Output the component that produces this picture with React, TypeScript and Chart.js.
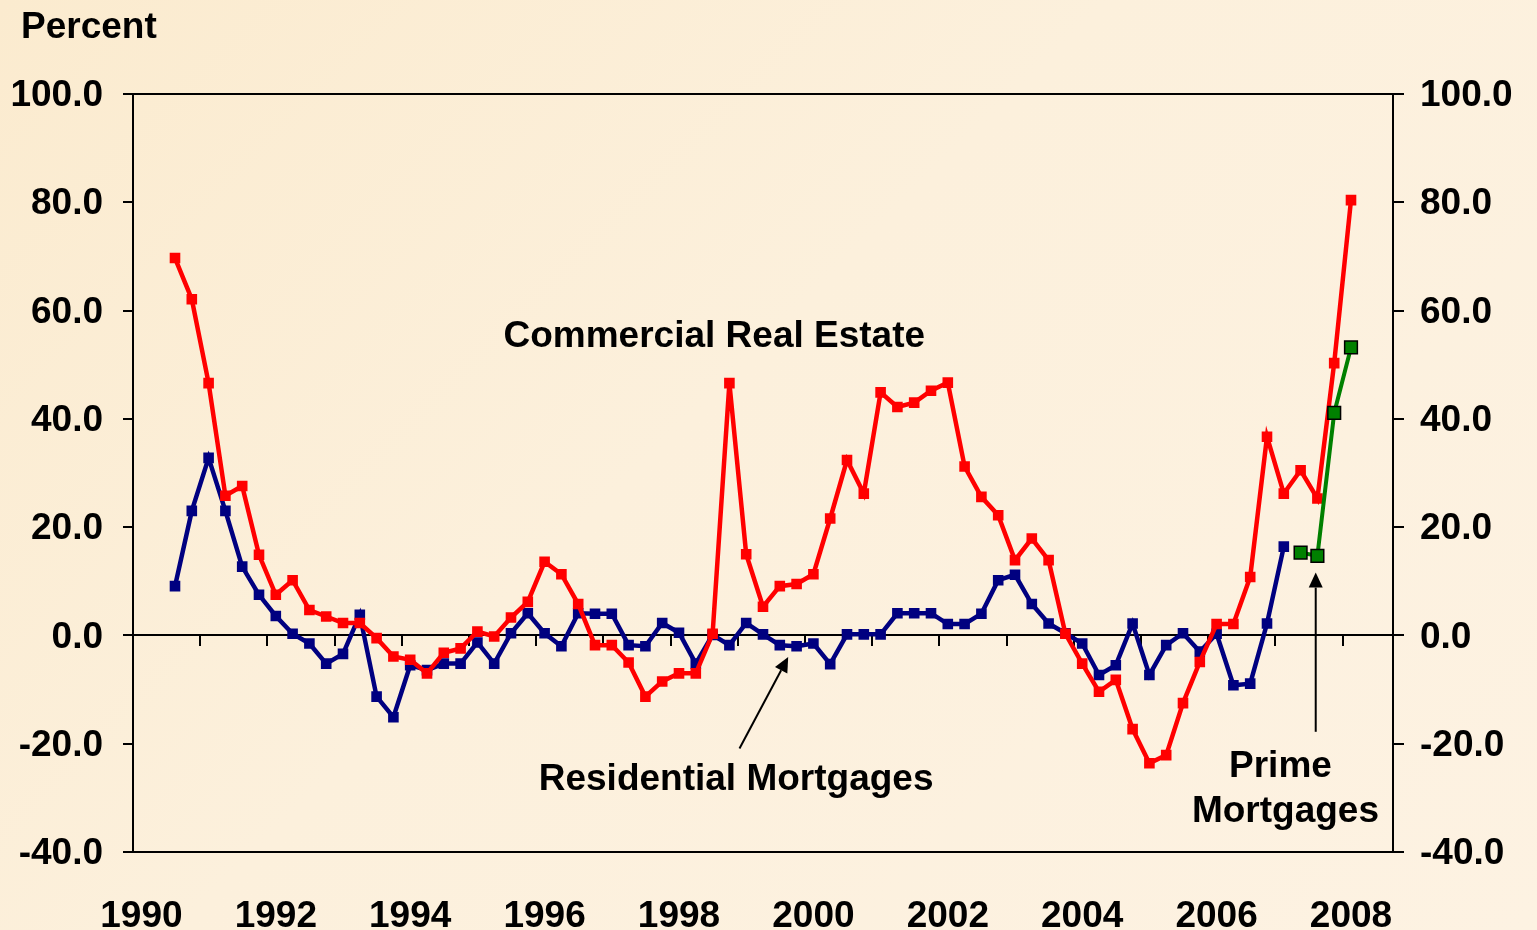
import React, { useEffect, useRef } from 'react';
import { Chart, registerables } from 'chart.js';

Chart.register(...registerables);

const FONT = '"Liberation Sans", Arial, Helvetica, sans-serif';

// Quarterly categories 1990 Q1 .. 2008 Q3
const startYear = 1990;
const quarterCount = 75;
const categories: string[] = [];
for (let i = 0; i < quarterCount; i++) {
  categories.push(`${startYear + Math.floor(i / 4)} Q${(i % 4) + 1}`);
}

// Tick labels shown every 8 quarters
const yearTickLabels = ['1990', '1992', '1994', '1996', '1998', '2000', '2002', '2004', '2006', '2008'];

// Commercial Real Estate (percent)
const commercialRealEstate: (number | null)[] = [
  null, null, 69.7, 62.1, 46.6, 25.8, 27.6, 14.9,
  7.5, 10.2, 4.7, 3.5, 2.3, 2.3, -0.5, -3.9,
  -4.5, -7.0, -3.2, -2.4, 0.7, -0.2, 3.3, 6.2,
  13.6, 11.3, 5.8, -1.8, -1.8, -5.0, -11.3, -8.5,
  -7.0, -7.0, 0.3, 46.6, 15.0, 5.3, 9.1, 9.5,
  11.3, 21.6, 32.4, 26.2, 44.9, 42.2, 43.0, 45.2,
  46.7, 31.2, 25.6, 22.2, 13.9, 17.9, 13.9, 0.3,
  -5.2, -10.4, -8.2, -17.3, -23.6, -22.1, -12.5, -4.9,
  2.1, 2.1, 10.8, 36.7, 26.2, 30.5, 25.3, 50.3,
  80.4, null, null,
];

// Residential Mortgages (percent)
const residentialMortgages: (number | null)[] = [
  null, null, 9.1, 23.0, 32.8, 23.0, 12.7, 7.5,
  3.6, 0.3, -1.5, -5.2, -3.4, 3.8, -11.3, -15.1,
  -5.5, -6.4, -5.2, -5.2, -1.3, -5.2, 0.4, 4.1,
  0.4, -2.0, 4.1, 4.0, 4.0, -1.8, -2.0, 2.3,
  0.5, -5.2, 0.1, -1.8, 2.3, 0.2, -1.8, -2.0,
  -1.5, -5.3, 0.2, 0.2, 0.2, 4.1, 4.1, 4.1,
  2.1, 2.1, 4.0, 10.2, 11.2, 5.8, 2.2, 0.4,
  -1.5, -7.3, -5.5, 2.2, -7.3, -1.8, 0.4, -3.0,
  0.3, -9.2, -8.9, 2.2, 16.4, null, null, null,
  null, null, null,
];

// Prime Mortgages (percent)
const primeMortgages: (number | null)[] = [
  null, null, null, null, null, null, null, null,
  null, null, null, null, null, null, null, null,
  null, null, null, null, null, null, null, null,
  null, null, null, null, null, null, null, null,
  null, null, null, null, null, null, null, null,
  null, null, null, null, null, null, null, null,
  null, null, null, null, null, null, null, null,
  null, null, null, null, null, null, null, null,
  null, null, null, null, null, 15.3, 14.7, 41.1,
  53.2, null, null,
];

// Annotations in data space (category index, value)
const noteTexts = [
  { text: 'Commercial Real Estate', x: 34.1, y: 55.2 },
  { text: 'Residential Mortgages', x: 35.4, y: -26.6 },
  { text: 'Prime', x: 67.8, y: -24.2 },
  { text: 'Mortgages', x: 68.1, y: -32.5 },
];
const noteArrows = [
  { fromX: 35.6, fromY: -20.9, toX: 38.5, toY: -4.0 },
  { fromX: 69.9, fromY: -17.8, toX: 69.9, toY: 11.6 },
];

const notesPlugin = {
  id: 'notes',
  afterDraw(chart: any) {
    const { ctx, chartArea, scales } = chart;
    const xs = scales.x;
    const ys = scales.y;
    ctx.save();
    // plot frame
    ctx.strokeStyle = '#000';
    ctx.lineWidth = 2;
    ctx.strokeRect(chartArea.left, chartArea.top, chartArea.right - chartArea.left, chartArea.bottom - chartArea.top);

    ctx.fillStyle = '#000';
    ctx.font = `bold 37px ${FONT}`;
    ctx.textAlign = 'left';
    ctx.textBaseline = 'alphabetic';
    ctx.fillText('Percent', 21, 38);

    ctx.textAlign = 'center';
    ctx.textBaseline = 'middle';
    for (const n of noteTexts) {
      ctx.fillText(n.text, xs.getPixelForValue(n.x), ys.getPixelForValue(n.y));
    }

    ctx.lineWidth = 2;
    for (const a of noteArrows) {
      const x1 = xs.getPixelForValue(a.fromX);
      const y1 = ys.getPixelForValue(a.fromY);
      const x2 = xs.getPixelForValue(a.toX);
      const y2 = ys.getPixelForValue(a.toY);
      const ang = Math.atan2(y2 - y1, x2 - x1);
      const head = 15;
      const hw = 7;
      const c = Math.cos(ang);
      const s = Math.sin(ang);
      ctx.beginPath();
      ctx.moveTo(x1, y1);
      ctx.lineTo(x2 - head * c, y2 - head * s);
      ctx.stroke();
      ctx.beginPath();
      ctx.moveTo(x2, y2);
      ctx.lineTo(x2 - head * c + hw * s, y2 - head * s - hw * c);
      ctx.lineTo(x2 - head * c - hw * s, y2 - head * s + hw * c);
      ctx.closePath();
      ctx.fill();
    }
    ctx.restore();
  },
};

const tickFont = { family: FONT, size: 37, weight: 'bold' as const };

export default function App() {
  const canvasRef = useRef<HTMLCanvasElement | null>(null);

  useEffect(() => {
    if (!canvasRef.current) return;
    const chart = new Chart(canvasRef.current, {
      type: 'line',
      data: {
        labels: categories,
        datasets: [
          {
            label: 'Prime Mortgages',
            data: primeMortgages,
            borderColor: '#008000',
            backgroundColor: '#008000',
            pointBackgroundColor: '#008000',
            pointBorderColor: '#000000',
            pointBorderWidth: 1.5,
            pointStyle: 'rect',
            pointRadius: 9,
            borderWidth: 4,
            tension: 0,
            spanGaps: false,
          },
          {
            label: 'Commercial Real Estate',
            data: commercialRealEstate,
            borderColor: '#FF0000',
            backgroundColor: '#FF0000',
            pointBackgroundColor: '#FF0000',
            pointBorderColor: '#FF0000',
            pointBorderWidth: 0,
            pointStyle: 'rect',
            pointRadius: 7.5,
            borderWidth: 4.5,
            tension: 0,
            spanGaps: false,
          },
          {
            label: 'Residential Mortgages',
            data: residentialMortgages,
            borderColor: '#000080',
            backgroundColor: '#000080',
            pointBackgroundColor: '#000080',
            pointBorderColor: '#000080',
            pointBorderWidth: 0,
            pointStyle: 'rect',
            pointRadius: 7.5,
            borderWidth: 4.5,
            tension: 0,
            spanGaps: false,
          },
        ],
      },
      options: {
        animation: false,
        responsive: true,
        maintainAspectRatio: false,
        layout: { padding: { top: 94, left: 0, right: 0, bottom: 0 } },
        plugins: {
          legend: { display: false },
          tooltip: { enabled: false },
          title: { display: false },
        },
        scales: {
          x: {
            type: 'category',
            position: 'bottom',
            offset: true,
            grid: { display: false },
            border: { display: false },
            ticks: {
              autoSkip: false,
              maxRotation: 0,
              minRotation: 0,
              padding: 35,
              color: '#000',
              font: tickFont,
              callback: (_v: any, i: number) => (i % 8 === 0 ? yearTickLabels[i / 8] : ''),
            },
            afterFit: (s: any) => {
              s.height = 78;
            },
          },
          x0: {
            type: 'category',
            position: { y: 0 },
            offset: true,
            grid: {
              offset: true,
              drawOnChartArea: false,
              drawTicks: true,
              tickLength: 10,
              lineWidth: 2,
              color: (c: any) => (typeof c.index === 'number' && c.index > 0 && c.index % 4 === 0 ? '#000' : 'rgba(0,0,0,0)'),
            },
            border: { display: true, color: '#000', width: 2 },
            ticks: { display: false, autoSkip: false },
          },
          y: {
            position: 'left',
            min: -40,
            max: 100,
            ticks: {
              stepSize: 20,
              padding: 20,
              labelOffset: 2,
              color: '#000',
              font: tickFont,
              callback: (v: any) => Number(v).toFixed(1),
            },
            grid: { drawOnChartArea: false, tickLength: 10, lineWidth: 2, color: '#000' },
            border: { display: false },
            afterFit: (s: any) => {
              s.width = 133;
            },
          },
          y2: {
            position: 'right',
            min: -40,
            max: 100,
            ticks: {
              stepSize: 20,
              padding: 16,
              labelOffset: 2,
              color: '#000',
              font: tickFont,
              callback: (v: any) => Number(v).toFixed(1),
            },
            grid: { drawOnChartArea: false, tickLength: 11, lineWidth: 2, color: '#000' },
            border: { display: false },
            afterFit: (s: any) => {
              s.width = 144;
            },
          },
        },
      } as any,
      plugins: [notesPlugin],
    });
    return () => chart.destroy();
  }, []);

  return (
    <div
      style={{
        position: 'fixed',
        left: 0,
        top: 0,
        width: 1537,
        height: 930,
        background: 'linear-gradient(135deg, #FBEBCF 0%, #FCF0DC 45%, #FDF2E2 100%)',
      }}
    >
      <canvas ref={canvasRef} />
    </div>
  );
}
